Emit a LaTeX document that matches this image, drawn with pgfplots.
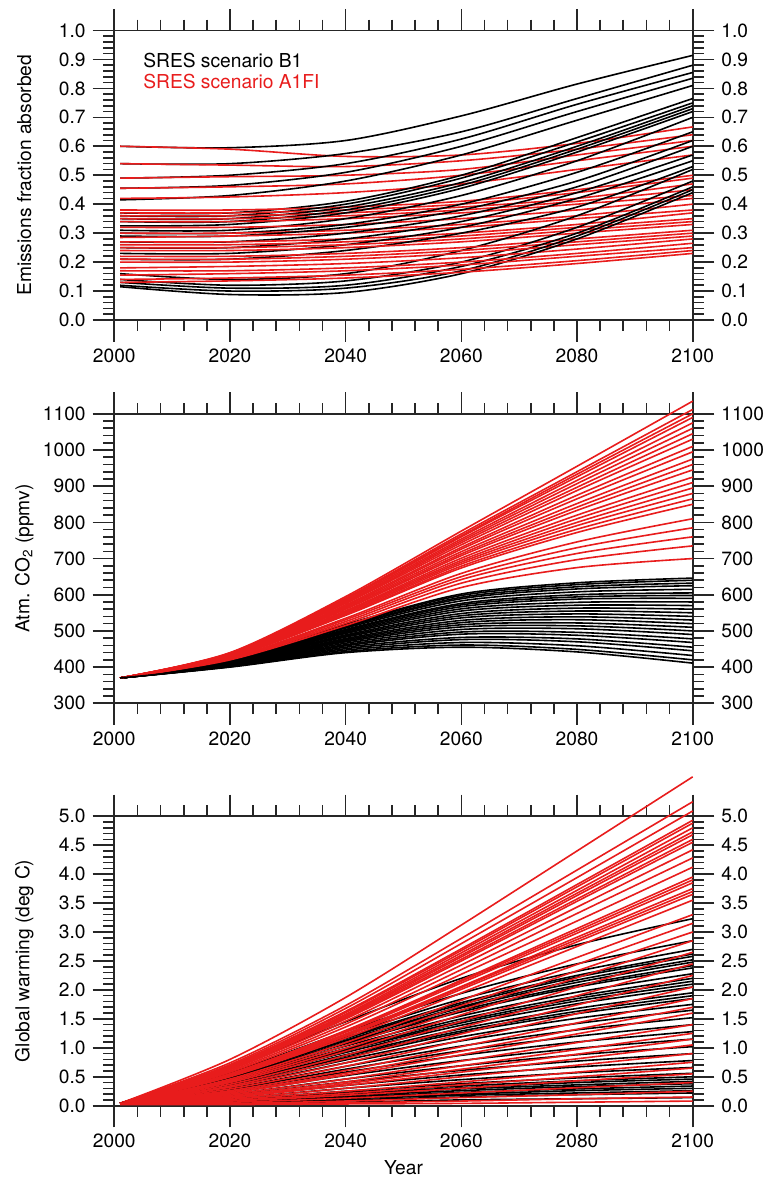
\documentclass[border=0pt]{standalone}
\usepackage{fontspec}
\setmainfont{TeX Gyre Heros}
\usepackage{pgfplots}
\pgfplotsset{compat=1.18}
\definecolor{lred}{RGB}{232,28,28}
\newcommand\fs{\fontsize{9.6}{11}\selectfont}
\pgfplotsset{
  panel/.style={
    scale only axis, width=289.2pt, height=144.75pt,
    xmin=2000, xmax=2100, xtick={2000,2020,...,2100}, minor x tick num=4,
    minor y tick num=4,
    tick align=outside, major tick length=10.8pt, minor tick length=5.4pt,
    axis line style={line width=0.8pt, black!85},
    tick style={line width=0.8pt, black!85},
    tick label style={font=\fs},
    label style={font=\fs},
    clip=false, scaled ticks=false,
    /pgf/number format/1000 sep={},
    /pgf/number format/assume math mode=true,
    ylabel style={at={(axis description cs:-0.1556,0.5)}, anchor=center},
  },
  rlabels/.style={yticklabel pos=right, xticklabels={}, ylabel={},
    axis line style={draw=none}, tick style={draw=none}},
  onedec/.style={yticklabel style={/pgf/number format/.cd, fixed, fixed zerofill, precision=1}},
  bl/.style={black, line width=0.8pt, smooth, no markers},
  rd/.style={lred, line width=0.8pt, smooth, no markers},
}
% one run: values at 2001, 2020, 2040, 2060, 2080, 2100
\newcommand\B[6]{\addplot[bl] coordinates {(2001,#1)(2020,#2)(2040,#3)(2060,#4)(2080,#5)(2100,#6)};}
\newcommand\R[6]{\addplot[rd] coordinates {(2001,#1)(2020,#2)(2040,#3)(2060,#4)(2080,#5)(2100,#6)};}
\begin{document}
\begin{tikzpicture}
\useasboundingbox (-57.15pt,-35.65pt) rectangle (324.35pt,552.85pt);

% ---- panel 1: airborne fraction
\begin{axis}[panel, onedec, at={(0,392.85pt)}, ymin=0, ymax=1,
  ytick={0,0.1,0.2,0.3,0.4,0.5,0.6,0.7,0.8,0.9,1},
  ylabel={Emissions fraction absorbed}]
\B{0.60}{0.595}{0.62}{0.705}{0.815}{0.914}
\R{0.60}{0.59}{0.565}{0.57}{0.61}{0.667}
\B{0.54}{0.54}{0.575}{0.65}{0.765}{0.88}
\R{0.54}{0.535}{0.53}{0.55}{0.59}{0.64}
\B{0.49}{0.50}{0.54}{0.625}{0.745}{0.855}
\R{0.49}{0.495}{0.50}{0.52}{0.57}{0.62}
\B{0.455}{0.465}{0.51}{0.60}{0.72}{0.835}
\R{0.455}{0.46}{0.47}{0.50}{0.55}{0.60}
\B{0.415}{0.43}{0.48}{0.57}{0.69}{0.81}
\R{0.42}{0.425}{0.44}{0.47}{0.52}{0.57}
\B{0.37}{0.37}{0.41}{0.50}{0.63}{0.765}
\R{0.38}{0.38}{0.39}{0.41}{0.45}{0.50}
\B{0.36}{0.36}{0.40}{0.49}{0.615}{0.75}
\R{0.37}{0.37}{0.38}{0.40}{0.44}{0.49}
\B{0.35}{0.35}{0.39}{0.475}{0.60}{0.74}
\R{0.36}{0.36}{0.37}{0.39}{0.42}{0.47}
\B{0.34}{0.34}{0.38}{0.465}{0.59}{0.73}
\R{0.35}{0.35}{0.36}{0.38}{0.41}{0.45}
\B{0.325}{0.33}{0.37}{0.455}{0.58}{0.72}
\R{0.34}{0.34}{0.35}{0.37}{0.40}{0.43}
\B{0.31}{0.31}{0.35}{0.43}{0.55}{0.70}
\R{0.32}{0.32}{0.33}{0.35}{0.38}{0.42}
\B{0.30}{0.30}{0.33}{0.40}{0.51}{0.65}
\R{0.30}{0.30}{0.31}{0.33}{0.36}{0.40}
\B{0.29}{0.29}{0.32}{0.38}{0.48}{0.62}
\R{0.285}{0.29}{0.30}{0.32}{0.35}{0.38}
\B{0.27}{0.27}{0.30}{0.36}{0.46}{0.60}
\R{0.27}{0.27}{0.28}{0.30}{0.33}{0.37}
\B{0.25}{0.25}{0.28}{0.34}{0.44}{0.57}
\R{0.26}{0.26}{0.27}{0.29}{0.32}{0.35}
\B{0.23}{0.23}{0.26}{0.32}{0.42}{0.55}
\R{0.25}{0.25}{0.26}{0.28}{0.31}{0.34}
\B{0.21}{0.21}{0.24}{0.30}{0.39}{0.53}
\R{0.24}{0.24}{0.25}{0.27}{0.30}{0.33}
\B{0.16}{0.14}{0.16}{0.24}{0.36}{0.52}
\R{0.22}{0.22}{0.23}{0.25}{0.28}{0.31}
\B{0.14}{0.12}{0.135}{0.20}{0.32}{0.48}
\R{0.21}{0.21}{0.22}{0.24}{0.27}{0.30}
\B{0.13}{0.11}{0.12}{0.185}{0.30}{0.46}
\R{0.20}{0.20}{0.21}{0.23}{0.26}{0.29}
\B{0.12}{0.10}{0.11}{0.17}{0.29}{0.45}
\R{0.18}{0.185}{0.195}{0.215}{0.245}{0.28}
\B{0.115}{0.088}{0.095}{0.16}{0.28}{0.44}
\R{0.17}{0.17}{0.18}{0.20}{0.23}{0.265}
\R{0.155}{0.16}{0.17}{0.19}{0.22}{0.25}
\R{0.14}{0.145}{0.155}{0.175}{0.205}{0.24}
\R{0.13}{0.135}{0.145}{0.165}{0.195}{0.23}
\node[anchor=west, inner sep=0, font=\fs] at (axis description cs:0.0496,0.896) {SRES scenario B1};
\node[anchor=west, inner sep=0, font=\fs, text=lred] at (axis description cs:0.0496,0.824) {SRES scenario A1FI};
\end{axis}
\begin{axis}[panel, onedec, rlabels, at={(0,392.85pt)}, ymin=0, ymax=1,
  ytick={0,0.1,0.2,0.3,0.4,0.5,0.6,0.7,0.8,0.9,1}]
\end{axis}

% ---- panel 2: atmospheric CO2
\begin{axis}[panel, at={(0,201.2pt)}, ymin=300, ymax=1100,
  ytick={300,400,...,1100},
  ylabel={Atm. CO\textsubscript{2} (ppmv)}]
\B{370}{418}{518}{602}{633}{646}
\R{370}{440}{595}{776}{955}{1135}
\B{370}{418}{516}{598}{628}{640}
\R{370}{439}{591}{768}{940}{1112}
\B{370}{417}{513}{593}{622}{632}
\R{370}{438}{589}{763}{933}{1100}
\B{370}{416}{511}{589}{616}{625}
\R{370}{438}{587}{760}{926}{1090}
\B{370}{416}{508}{583}{608}{615}
\R{370}{437}{584}{754}{916}{1075}
\B{370}{415}{504}{576}{600}{605}
\R{370}{437}{581}{749}{907}{1060}
\B{370}{414}{502}{572}{594}{598}
\R{370}{436}{578}{744}{897}{1045}
\B{370}{414}{499}{567}{588}{590}
\R{370}{435}{576}{738}{888}{1030}
\B{370}{413}{496}{561}{579}{580}
\R{370}{434}{572}{731}{875}{1010}
\B{370}{412}{493}{555}{571}{570}
\R{370}{434}{569}{726}{865}{995}
\B{370}{411}{489}{548}{563}{560}
\R{370}{433}{566}{719}{852}{975}
\B{370}{411}{486}{542}{555}{550}
\R{370}{432}{563}{713}{842}{960}
\B{370}{410}{483}{536}{547}{540}
\R{370}{431}{560}{708}{833}{945}
\B{370}{409}{479}{529}{539}{530}
\R{370}{430}{556}{701}{820}{925}
\B{370}{408}{476}{523}{531}{520}
\R{370}{430}{554}{695}{810}{910}
\B{370}{408}{473}{517}{522}{510}
\R{370}{429}{551}{690}{800}{895}
\B{370}{407}{470}{511}{514}{500}
\R{370}{428}{548}{685}{791}{880}
\B{370}{406}{466}{504}{506}{490}
\R{370}{428}{545}{679}{781}{865}
\B{370}{405}{462}{497}{496}{478}
\R{370}{427}{543}{674}{772}{850}
\B{370}{404}{459}{491}{488}{468}
\R{370}{425}{535}{659}{746}{810}
\B{370}{403}{455}{482}{478}{455}
\R{370}{424}{531}{650}{730}{785}
\B{370}{403}{451}{476}{470}{445}
\R{370}{423}{526}{642}{714}{760}
\B{370}{402}{447}{468}{459}{432}
\R{370}{422}{521}{632}{697}{735}
\B{370}{401}{443}{461}{449}{420}
\R{370}{420}{515}{620}{675}{700}
\B{370}{400}{440}{455}{442}{411}
\end{axis}
\begin{axis}[panel, rlabels, at={(0,201.2pt)}, ymin=300, ymax=1100,
  ytick={300,400,...,1100}]
\end{axis}

% ---- panel 3: global warming
\begin{axis}[panel, onedec, at={(0,0)}, ymin=0, ymax=5,
  ytick={0,0.5,...,5},
  ylabel={Global warming (deg C)},
  xlabel={Year},
  xlabel style={at={(axis description cs:0.5,-0.214)}, anchor=center}]
\R{0.04}{0.80}{1.87}{3.12}{4.40}{5.68}
\B{0.04}{0.65}{1.45}{2.20}{2.78}{3.23}
\R{0.04}{0.74}{1.73}{2.89}{4.07}{5.25}
\B{0.04}{0.57}{1.28}{1.94}{2.45}{2.85}
\R{0.04}{0.71}{1.68}{2.80}{3.94}{5.09}
\B{0.04}{0.54}{1.22}{1.84}{2.32}{2.70}
\R{0.04}{0.69}{1.63}{2.71}{3.82}{4.93}
\B{0.04}{0.52}{1.18}{1.78}{2.25}{2.62}
\R{0.04}{0.68}{1.61}{2.68}{3.78}{4.88}
\B{0.04}{0.52}{1.16}{1.75}{2.22}{2.58}
\R{0.04}{0.67}{1.58}{2.64}{3.72}{4.80}
\B{0.04}{0.50}{1.13}{1.71}{2.17}{2.52}
\R{0.04}{0.66}{1.56}{2.60}{3.67}{4.73}
\B{0.04}{0.50}{1.12}{1.69}{2.13}{2.48}
\R{0.04}{0.66}{1.54}{2.57}{3.63}{4.68}
\B{0.04}{0.48}{1.09}{1.65}{2.08}{2.42}
\R{0.04}{0.64}{1.52}{2.53}{3.57}{4.60}
\B{0.04}{0.48}{1.07}{1.62}{2.05}{2.38}
\R{0.04}{0.64}{1.50}{2.50}{3.53}{4.55}
\B{0.04}{0.46}{1.03}{1.55}{1.96}{2.28}
\R{0.04}{0.62}{1.46}{2.43}{3.43}{4.42}
\B{0.04}{0.44}{0.99}{1.50}{1.89}{2.20}
\R{0.04}{0.60}{1.41}{2.35}{3.32}{4.28}
\B{0.04}{0.43}{0.97}{1.46}{1.85}{2.15}
\R{0.04}{0.58}{1.36}{2.27}{3.19}{4.12}
\B{0.04}{0.42}{0.95}{1.43}{1.81}{2.10}
\R{0.04}{0.55}{1.30}{2.17}{3.06}{3.95}
\B{0.04}{0.41}{0.92}{1.39}{1.76}{2.05}
\R{0.04}{0.55}{1.29}{2.15}{3.02}{3.90}
\B{0.04}{0.39}{0.88}{1.33}{1.68}{1.95}
\R{0.04}{0.54}{1.27}{2.12}{2.98}{3.85}
\B{0.04}{0.38}{0.86}{1.29}{1.63}{1.90}
\R{0.04}{0.53}{1.24}{2.06}{2.91}{3.75}
\B{0.04}{0.37}{0.83}{1.26}{1.59}{1.85}
\R{0.04}{0.52}{1.22}{2.04}{2.87}{3.70}
\B{0.04}{0.35}{0.79}{1.19}{1.51}{1.75}
\R{0.04}{0.51}{1.20}{2.01}{2.83}{3.65}
\B{0.04}{0.33}{0.74}{1.12}{1.42}{1.65}
\R{0.04}{0.50}{1.17}{1.95}{2.75}{3.55}
\B{0.04}{0.30}{0.68}{1.03}{1.31}{1.52}
\R{0.04}{0.46}{1.09}{1.82}{2.56}{3.30}
\B{0.04}{0.28}{0.63}{0.95}{1.20}{1.40}
\R{0.04}{0.44}{1.04}{1.73}{2.44}{3.15}
\B{0.04}{0.26}{0.58}{0.87}{1.10}{1.28}
\R{0.04}{0.42}{0.99}{1.65}{2.33}{3.00}
\B{0.04}{0.23}{0.52}{0.78}{0.99}{1.15}
\R{0.04}{0.40}{0.94}{1.57}{2.21}{2.85}
\B{0.04}{0.20}{0.46}{0.69}{0.88}{1.02}
\R{0.04}{0.37}{0.87}{1.46}{2.05}{2.65}
\B{0.04}{0.18}{0.41}{0.61}{0.77}{0.90}
\R{0.04}{0.34}{0.81}{1.35}{1.90}{2.45}
\B{0.04}{0.16}{0.35}{0.53}{0.67}{0.78}
\R{0.04}{0.32}{0.74}{1.24}{1.74}{2.25}
\B{0.04}{0.13}{0.30}{0.45}{0.57}{0.66}
\R{0.04}{0.29}{0.68}{1.13}{1.59}{2.05}
\B{0.04}{0.11}{0.25}{0.38}{0.48}{0.56}
\R{0.04}{0.26}{0.61}{1.02}{1.43}{1.85}
\B{0.04}{0.10}{0.23}{0.34}{0.43}{0.50}
\R{0.04}{0.24}{0.56}{0.94}{1.32}{1.70}
\B{0.04}{0.09}{0.21}{0.31}{0.40}{0.46}
\R{0.04}{0.22}{0.53}{0.88}{1.24}{1.60}
\B{0.04}{0.08}{0.19}{0.29}{0.36}{0.42}
\R{0.04}{0.20}{0.46}{0.77}{1.09}{1.40}
\B{0.04}{0.08}{0.17}{0.26}{0.33}{0.38}
\R{0.04}{0.18}{0.41}{0.69}{0.97}{1.25}
\B{0.04}{0.07}{0.15}{0.23}{0.29}{0.34}
\R{0.04}{0.16}{0.38}{0.63}{0.89}{1.15}
\B{0.04}{0.06}{0.14}{0.20}{0.26}{0.30}
\R{0.04}{0.15}{0.35}{0.58}{0.81}{1.05}
\B{0.04}{0.05}{0.12}{0.18}{0.22}{0.26}
\R{0.04}{0.13}{0.30}{0.50}{0.70}{0.90}
\B{0.04}{0.05}{0.10}{0.15}{0.19}{0.22}
\R{0.04}{0.11}{0.25}{0.41}{0.58}{0.75}
\B{0.03}{0.04}{0.06}{0.10}{0.12}{0.14}
\R{0.04}{0.09}{0.21}{0.36}{0.50}{0.65}
\R{0.04}{0.08}{0.18}{0.30}{0.43}{0.55}
\R{0.04}{0.06}{0.13}{0.22}{0.31}{0.40}
\R{0.03}{0.04}{0.08}{0.14}{0.19}{0.25}
\R{0.03}{0.03}{0.05}{0.08}{0.12}{0.15}
\R{0.02}{0.02}{0.03}{0.04}{0.06}{0.08}
\end{axis}
\begin{axis}[panel, onedec, rlabels, at={(0,0)}, ymin=0, ymax=5,
  ytick={0,0.5,...,5}]
\end{axis}
\end{tikzpicture}
\end{document}
